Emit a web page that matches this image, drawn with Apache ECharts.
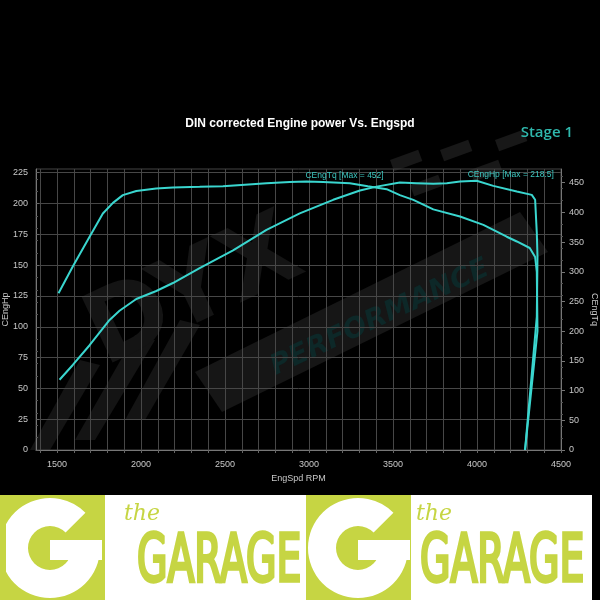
<!DOCTYPE html>
<html>
<head>
<meta charset="utf-8">
<script src="https://cdn.jsdelivr.net/npm/echarts@6/dist/echarts.min.js"></script>
<style>html,body{margin:0;padding:0;background:#000;}#c{width:600px;height:600px;}</style>
</head>
<body>
<div id="c"></div>
<script>
// ---- data ----
const tqRpm = [1509,1594,1694,1773,1833,1892,1972,2090,2190,2349,2488,2640,2747,2886,2985,3084,3243,3350,3462,3541,3621,3740,3899,4038,4177,4237,4314,4346,4356,4360,4286];
const tqVal = [264,309,359,398,416,429,436,440,442,443,444,447,449,451,452,451,449,444,439,429,421,405,393,379,359,351,340,325,300,200,0];
const hpRpm = [1515,1594,1694,1813,1872,1972,2091,2190,2349,2548,2747,2945,3144,3303,3402,3541,3640,3740,3820,3899,3998,4097,4237,4326,4346,4356,4360,4356,4286];
const hpVal = [57,69,85,105.5,113,122.5,129,135.5,147.5,162,178.6,192,203,210.5,213.7,217,216.5,216,216.5,217.8,218.5,214.3,209.7,207,203,176,157,108,0];
const xLabels = [1500,2000,2500,3000,3500,4000,4500];
const xGrid = [1400,1500,1600,1700,1800,1900,2000,2100,2200,2300,2400,2500,2600,2700,2800,2900,3000,3100,3200,3300,3400,3500,3600,3700,3800,3900,4000,4100,4200,4300,4400,4500];
const hpTicks = [0,25,50,75,100,125,150,175,200,225];
const tqTicks = [0,50,100,150,200,250,300,350,400,450];
const titleText = 'DIN corrected Engine power Vs. Engspd';
const stageText = 'Stage 1';

const zip = (a, b) => a.map((v, i) => [v, b[i]]);
const cyan = '#3ad6cf';
const yg = '#c6d543';
const lbl = {color: '#c8c8c8', fontSize: 9, fontFamily: 'Liberation Sans'};
const plain = v => String(v);

const chart = echarts.init(document.getElementById('c'));
chart.setOption({
  backgroundColor: '#000',
  animation: false,
  title: [
    {text: titleText, left: 'center', top: 113, textStyle: {color: '#fff', fontSize: 12, fontWeight: 'bold', fontFamily: 'Liberation Sans'}},
    {text: stageText, right: 22, top: 120, textStyle: {color: '#2fb8ad', fontSize: 15, fontWeight: 600, fontFamily: 'Open Sans'}}
  ],
  grid: {left: 36, right: 39, top: 169, bottom: 150, containLabel: false, outerBoundsMode: 'none', show: true, borderColor: '#444', borderWidth: 1},
  xAxis: {
    type: 'value', min: 1375, max: 4500,
    name: 'EngSpd RPM', nameLocation: 'middle', nameGap: 24, nameMoveOverlap: false,
    nameTextStyle: lbl,
    axisLine: {lineStyle: {color: '#777'}},
    axisTick: {customValues: xGrid, length: 3, lineStyle: {color: '#666'}},
    axisLabel: Object.assign({customValues: xLabels, margin: 10, formatter: plain}, lbl),
    splitLine: {show: true, lineStyle: {color: '#474747', width: 1}}
  },
  yAxis: [
    {
      type: 'value', min: 0, max: 228, position: 'left',
      name: 'CEngHp', nameLocation: 'middle', nameGap: 26, nameRotate: 90, nameMoveOverlap: false,
      nameTextStyle: lbl,
      axisLine: {show: true, lineStyle: {color: '#777'}},
      axisTick: {show: true, customValues: hpTicks, inside: true, length: 3, lineStyle: {color: '#666'}},
      minorTick: {show: true, splitNumber: 5, length: 2, lineStyle: {color: '#555'}},
      axisLabel: Object.assign({customValues: hpTicks, margin: 8, formatter: plain}, lbl),
      splitLine: {show: true, lineStyle: {color: '#474747', width: 1}}
    },
    {
      type: 'value', min: 0, max: 473, position: 'right',
      name: 'CEngTq', nameLocation: 'middle', nameGap: 29, nameRotate: -90, nameMoveOverlap: false,
      nameTextStyle: lbl,
      axisLine: {show: true, lineStyle: {color: '#777'}},
      axisTick: {show: true, customValues: tqTicks, length: 4, lineStyle: {color: '#777'}},
      minorTick: {show: true, splitNumber: 5, length: 2, lineStyle: {color: '#555'}},
      axisLabel: Object.assign({customValues: tqTicks, margin: 8, formatter: plain}, lbl),
      splitLine: {show: false}
    }
  ],
  series: [
    {
      name: 'CEngTq', type: 'line', yAxisIndex: 1, data: zip(tqRpm, tqVal),
      showSymbol: false, symbol: 'none', lineStyle: {color: cyan, width: 2}, z: 5,
      markPoint: {
        symbol: 'circle', symbolSize: 0,
        data: [{type: 'max', valueDim: 'y'}],
        label: {show: true, position: 'right', offset: [-6, -6], color: '#3cc7c0', fontSize: 8.5, fontFamily: 'Liberation Sans',
          formatter: p => 'CEngTq [Max = ' + p.value + ']'}
      }
    },
    {
      name: 'CEngHp', type: 'line', yAxisIndex: 0, data: zip(hpRpm, hpVal),
      showSymbol: false, symbol: 'none', lineStyle: {color: cyan, width: 2}, z: 5,
      markPoint: {
        symbol: 'circle', symbolSize: 0,
        data: [{type: 'max', valueDim: 'y'}],
        label: {show: true, position: 'right', offset: [-14, -6], color: '#3cc7c0', fontSize: 8.5, fontFamily: 'Liberation Sans',
          formatter: p => 'CEngHp [Max = ' + p.value + ']'}
      }
    }
  ],
  graphic: [
    // watermark (behind the chart)
    {type: 'polygon', z: -5, shape: {points: [[195, 372], [520, 212], [548, 252], [222, 412]]}, style: {fill: '#161616'}},
    {type: 'text', z: -4, x: 380, y: 318, rotation: 0.44, style: {text: 'PERFORMANCE', fill: '#0d2828', font: 'italic bold 28px DejaVu Sans', align: 'center', verticalAlign: 'middle'}},
    {type: 'text', z: -4, x: 195, y: 295, rotation: 0.44, style: {text: 'DYX', fill: '#141414', font: 'bold 100px DejaVu Sans', align: 'center', verticalAlign: 'middle'}},
    {type: 'polygon', z: -5, shape: {points: [[30, 450], [80, 360], [100, 365], [50, 450]]}, style: {fill: '#141414'}},
    {type: 'polygon', z: -5, shape: {points: [[75, 440], [135, 335], [155, 340], [95, 440]]}, style: {fill: '#141414'}},
    {type: 'polygon', z: -5, shape: {points: [[125, 420], [180, 320], [200, 325], [145, 420]]}, style: {fill: '#141414'}},
    {type: 'rect', z: -5, x: 390, y: 160, rotation: 0.35, shape: {width: 30, height: 12}, style: {fill: '#181818'}},
    {type: 'rect', z: -5, x: 440, y: 150, rotation: 0.35, shape: {width: 30, height: 12}, style: {fill: '#181818'}},
    {type: 'rect', z: -5, x: 410, y: 185, rotation: 0.35, shape: {width: 30, height: 12}, style: {fill: '#181818'}},
    {type: 'rect', z: -5, x: 470, y: 170, rotation: 0.35, shape: {width: 30, height: 12}, style: {fill: '#181818'}},
    {type: 'rect', z: -5, x: 495, y: 140, rotation: 0.35, shape: {width: 30, height: 12}, style: {fill: '#181818'}},
    // banner
    {type: 'rect', shape: {x: 0, y: 495, width: 592, height: 105}, style: {fill: '#fff'}},
    {type: 'rect', shape: {x: 0, y: 495, width: 105, height: 105}, style: {fill: yg}},
    {type: 'rect', shape: {x: 306, y: 495, width: 105, height: 105}, style: {fill: yg}},
    {type: 'sector', shape: {cx: 50, cy: 548, r: 50, r0: 22, startAngle: 0.2, endAngle: 5.5, clockwise: true}, style: {fill: '#fff'}},
    {type: 'rect', shape: {x: 50, y: 540, width: 52, height: 20}, style: {fill: '#fff'}},
    {type: 'sector', shape: {cx: 358, cy: 548, r: 50, r0: 22, startAngle: 0.2, endAngle: 5.5, clockwise: true}, style: {fill: '#fff'}},
    {type: 'rect', shape: {x: 358, y: 540, width: 52, height: 20}, style: {fill: '#fff'}},
    {type: 'rect', shape: {x: 0, y: 495, width: 6, height: 105}, style: {fill: yg}},
    {type: 'text', x: 124, y: 514, style: {text: 'the', fill: yg, font: 'italic 22px DejaVu Serif', verticalAlign: 'middle'}},
    {type: 'text', x: 416, y: 514, style: {text: 'the', fill: yg, font: 'italic 22px DejaVu Serif', verticalAlign: 'middle'}},
    {type: 'text', x: 137, y: 530, scaleX: 1.15, scaleY: 1.75, style: {text: 'GARAGE', fill: yg, stroke: yg, lineWidth: 2, font: '38px DejaVu Sans Condensed', verticalAlign: 'top'}},
    {type: 'text', x: 420, y: 530, scaleX: 1.15, scaleY: 1.75, style: {text: 'GARAGE', fill: yg, stroke: yg, lineWidth: 2, font: '38px DejaVu Sans Condensed', verticalAlign: 'top'}}
  ]
});
</script>
</body>
</html>
